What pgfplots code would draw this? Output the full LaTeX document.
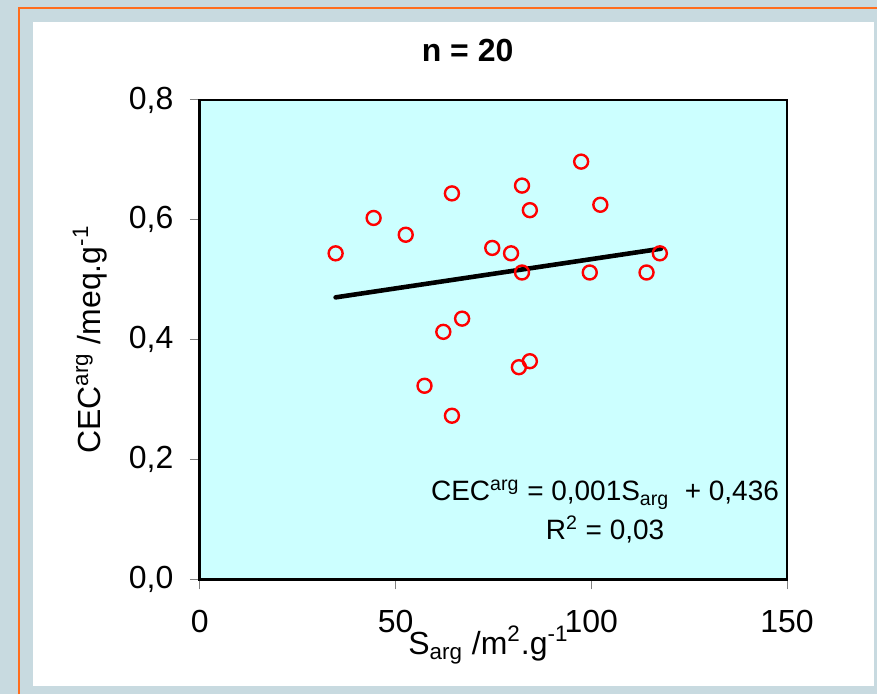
\documentclass[border=0pt]{standalone}
\usepackage{fontspec}
\setmainfont{Liberation Sans}
\usepackage{pgfplots}
\pgfplotsset{compat=1.18}
\definecolor{bgtex}{RGB}{200,218,224}
\definecolor{plotbg}{RGB}{204,255,255}
\definecolor{frameorange}{RGB}{255,110,30}
\begin{document}
\begin{tikzpicture}
\fill[bgtex] (0,0) rectangle (439pt,347.5pt);
\fill[white] (16.5pt,4pt) rectangle (437.5pt,336.5pt);
\draw[frameorange, line width=1pt] (9.5pt,0) -- (9.5pt,343.5pt) -- (439pt,343.5pt);
\begin{axis}[
  at={(100pt,57.5pt)}, anchor=south west,
  scale only axis, width=294pt, height=240pt,
  xmin=0, xmax=150, ymin=0, ymax=0.8,
  axis background/.style={fill=plotbg},
  axis line style={line width=1.3pt},
  tick align=outside, tick pos=left, major tick length=5pt,
  tick style={gray, line width=0.6pt},
  xtick={0,50,100,150}, ytick={0,0.2,0.4,0.6,0.8},
  /pgf/number format/assume math mode=true,
  y tick label style={xshift=-4.7pt, /pgf/number format/fixed, /pgf/number format/fixed zerofill, /pgf/number format/precision=1, /pgf/number format/use comma},
  ticklabel style={font=\fontsize{16}{18}\selectfont},
  xticklabel style={yshift=-7pt},
  xlabel={S\textsubscript{arg} /m\textsuperscript{2}.g\textsuperscript{-1}},
  xlabel style={at={(axis description cs:0.4915,0)}, anchor=base, yshift=-37.5pt, font=\fontsize{16}{18}\selectfont},
  ylabel={CEC\textsuperscript{arg} /meq.g\textsuperscript{-1}},
  ylabel style={at={(axis description cs:-0.187,0.5)}, anchor=center, font=\fontsize{16}{18}\selectfont},
  title={n = 20},
  title style={at={(axis description cs:0.456,1)}, anchor=center, yshift=18.5pt, font=\bfseries\fontsize{16}{18}\selectfont},
]
\addplot[only marks, mark=o, mark size=3.5pt, mark options={draw=red, fill=white, line width=1.2pt}] table {
x y
34.7 0.544
44.4 0.603
52.6 0.575
64.4 0.644
74.7 0.553
79.5 0.544
82.3 0.657
84.3 0.616
82.3 0.512
97.4 0.697
102.3 0.625
99.6 0.512
114.1 0.512
117.5 0.544
67.0 0.435
62.2 0.413
84.3 0.364
81.5 0.354
57.4 0.323
64.4 0.273
};
\addplot[black, line width=2.3pt, line cap=round] coordinates {(34.7,0.4705) (117.8,0.5517)};
\node[align=center, font=\fontsize{14}{19.5}\selectfont] at (axis cs:103.5,0.113)
  {CEC\textsuperscript{arg} = 0,001S\textsubscript{arg}\ \ + 0,436\\R\textsuperscript{2} = 0,03};
\end{axis}
\end{tikzpicture}
\end{document}
